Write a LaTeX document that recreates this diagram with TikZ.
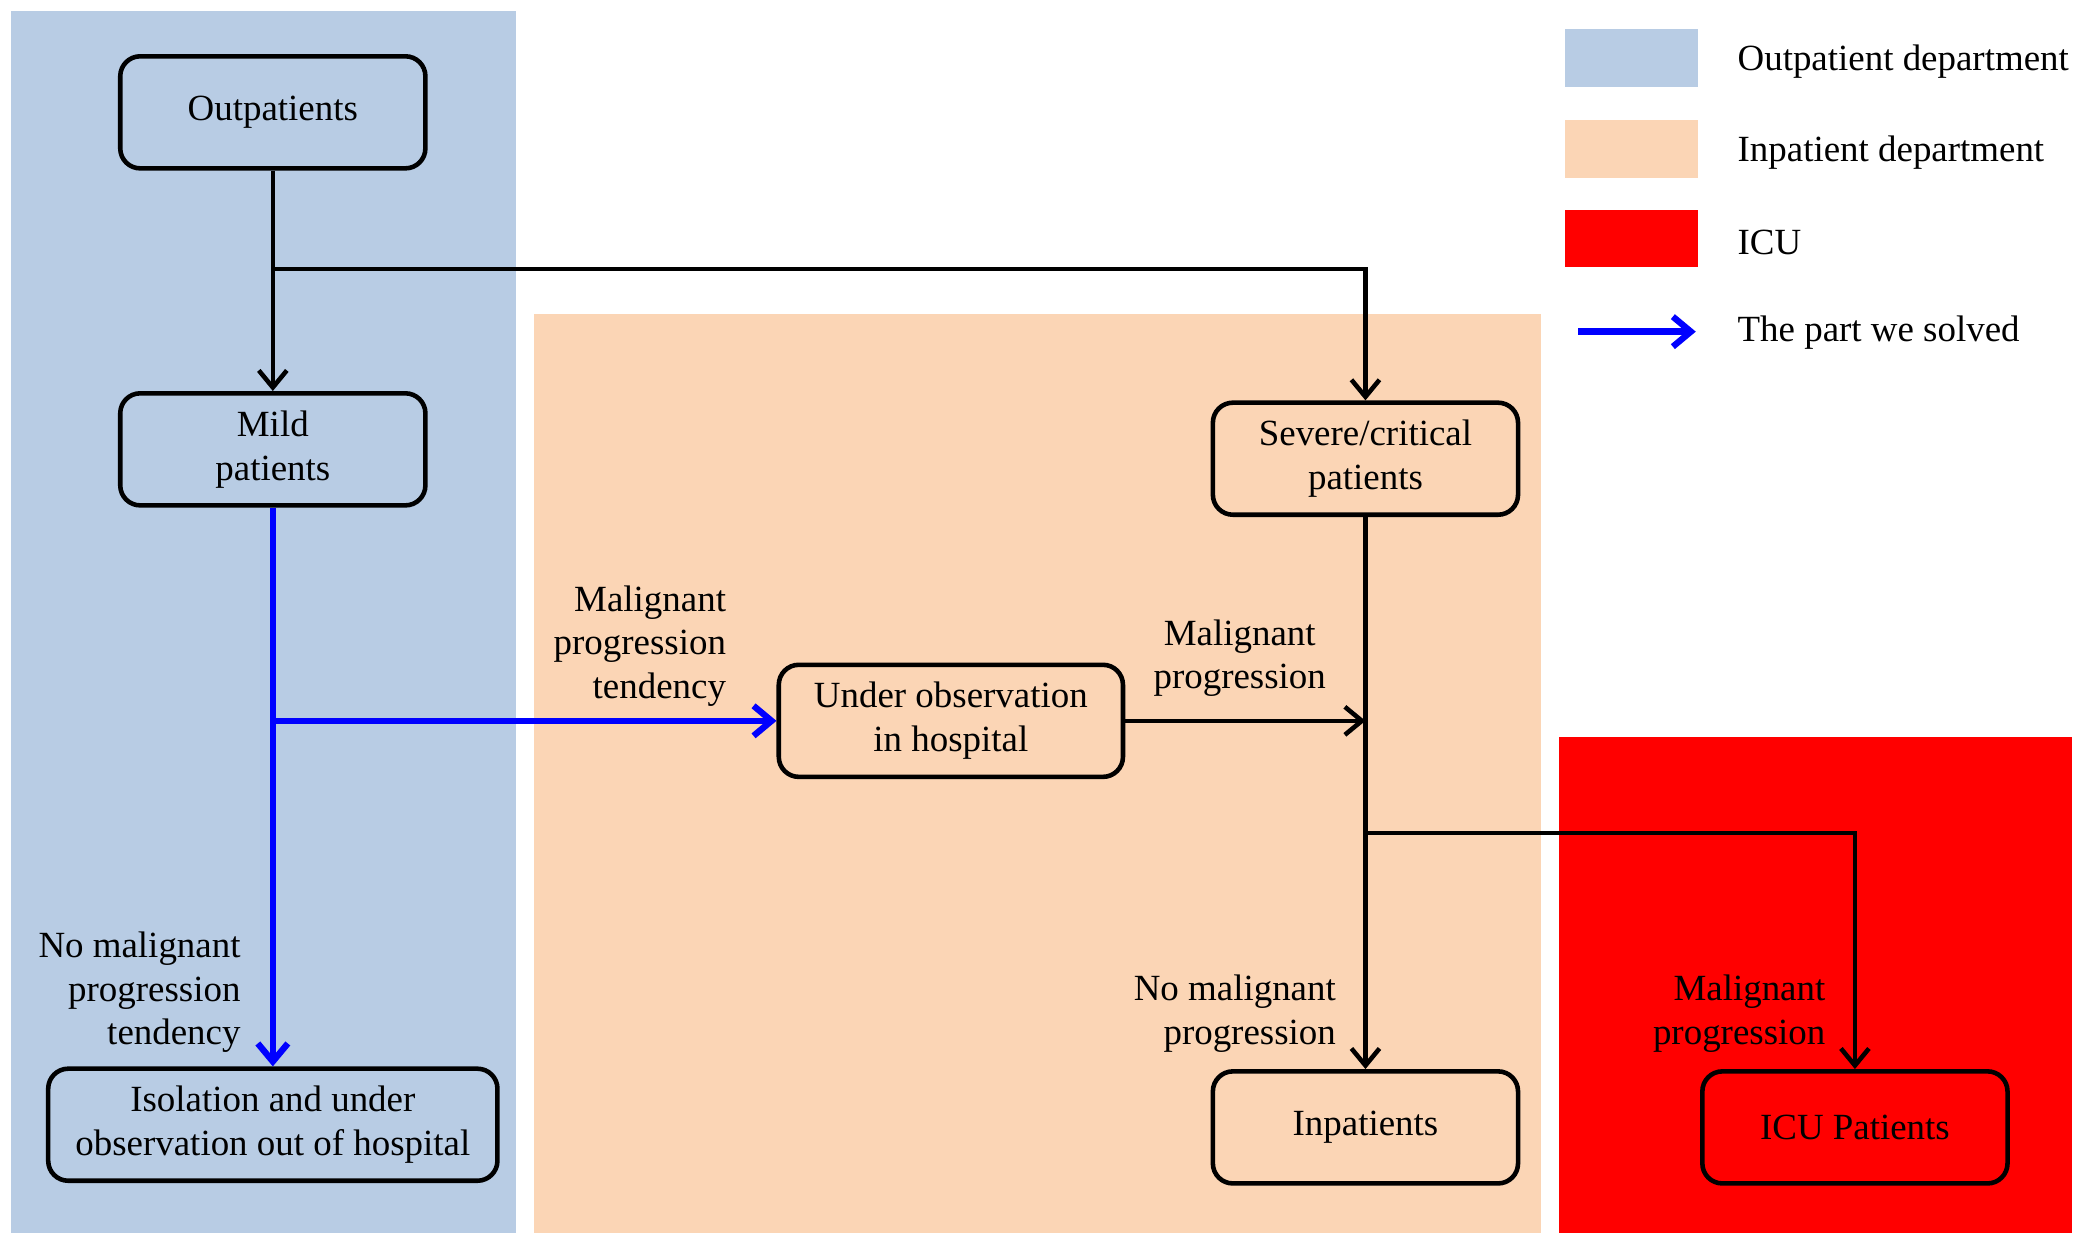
\documentclass[tikz,border=0pt]{standalone}
\usepackage{fontspec}
\setmainfont{Liberation Serif}
\usetikzlibrary{arrows.meta}
\definecolor{outblue}{HTML}{B8CCE4}
\definecolor{inpeach}{HTML}{FBD5B5}
\definecolor{icured}{HTML}{FF0000}
\begin{document}
\begin{tikzpicture}[x=0.01337cm, y=-0.01337cm,
  font=\fontsize{10.5}{12.4}\selectfont,
  box/.style={rectangle, draw, line width=1.3pt, rounded corners=0.2cm, minimum height=1.12cm, minimum width=3.05cm, align=center},
  lbl/.style={align=right, anchor=east, inner sep=1pt},
  arr/.style={-{Straight Barb[length=1.7mm, width=2.8mm, line width=1.3pt]}, line width=1.3pt},
  bluearr/.style={-{Straight Barb[length=1.8mm, width=3mm, line width=1.8pt]}, line width=1.8pt, blue}]
  \useasboundingbox (0,0) rectangle (1568,924);
  % Areas
  \fill[outblue] (8,8) rectangle (386,922);
  \fill[inpeach] (399,235) rectangle (1152,922);
  \fill[icured] (1166,551) rectangle (1549,922);
  % Legend
  \fill[outblue] (1170,22) rectangle (1270,65);
  \fill[inpeach] (1170,90) rectangle (1270,133);
  \fill[icured] (1170,157) rectangle (1270,200);
  \node (legout) [anchor=west] at (1290,46) {Outpatient department};
  \node (legin) [anchor=west] at (1290,114) {Inpatient department};
  \node (legicu) [anchor=west] at (1290,181) {ICU};
  \node (legpart) [anchor=west] at (1290,249) {The part we solved};
  \coordinate (legA) at (1180,248);
  \coordinate (legB) at (1268,248);
  % Nodes
  \node (out) [box] at (204,84) {Outpatients};
  \node (mild) [box] at (204,336) {Mild\\patients};
  \node (iso) [box, minimum width=4.49cm] at (204,841) {Isolation and under\\observation out of hospital};
  \node (obs) [box, minimum width=3.44cm] at (711,539) {Under observation\\in hospital};
  \node (severe) [box] at (1021,343) {Severe/critical\\patients};
  \node (inp) [box] at (1021,843) {Inpatients};
  \node (icu) [box, fill=icured] at (1387,843) {ICU Patients};
  % Branch points
  \coordinate (split1) at (204,201);
  \coordinate (split2) at (204,539);
  \coordinate (join) at (1021,539);
  \coordinate (split3) at (1021,623);
  % Arrow
  \draw[arr] (out) -- (mild);
  \draw[arr] (split1) -| (severe);
  \draw[bluearr] (mild) -- (iso);
  \draw[bluearr] (split2) -- (obs);
  \draw[arr] (obs) -- (join);
  \draw[arr] (severe) -- (inp);
  \draw[arr] (split3) -| (icu);
  \draw[bluearr] (legA) -- (legB);
  % Labels
  \node (l1) [lbl] at (546,483) {Malignant\\progression\\tendency};
  \node (l2) [lbl] at (183,742) {No malignant\\progression\\tendency};
  \node (l3) [align=center] at (927,492) {Malignant\\progression};
  \node (l4) [lbl] at (1002,758) {No malignant\\progression};
  \node (l5) [lbl] at (1368,758) {Malignant\\progression};
\end{tikzpicture}
\end{document}
